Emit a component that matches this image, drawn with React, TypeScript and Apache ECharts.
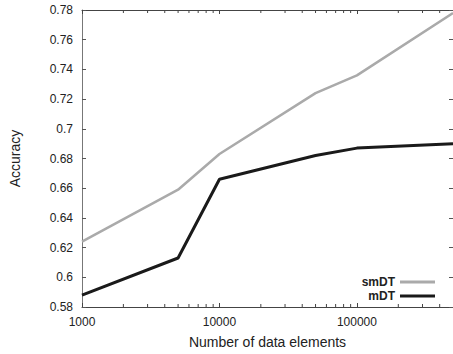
import React, { useEffect, useRef } from "react";
import * as echarts from "echarts";

const sizes = [1000, 5000, 10000, 50000, 100000, 500000];
const smDT = [0.624, 0.659, 0.683, 0.724, 0.736, 0.778];
const mDT = [0.588, 0.613, 0.666, 0.682, 0.687, 0.69];
const minorTickValues = [
  2000, 3000, 4000, 5000, 6000, 7000, 8000, 9000,
  20000, 30000, 40000, 50000, 60000, 70000, 80000, 90000,
  200000, 300000, 400000,
];
const Y_MIN = 0.58;
const Y_MAX = 0.78;
const Y_STEP = 0.02;
const X_MIN = 1000;
const X_MAX = 500000;

const FONT = "'Liberation Sans', Arial, Helvetica, sans-serif";

export default function App() {
  const ref = useRef<HTMLDivElement>(null);
  useEffect(() => {
    if (!ref.current) return;
    const chart = echarts.init(ref.current, null, { renderer: "svg" });
    const fmtY = (v: number) => String(Number(v.toFixed(2)));
    chart.setOption({
      animation: false,
      backgroundColor: "#ffffff",
      textStyle: { fontFamily: FONT },
      grid: { left: 78, top: 10, right: -1, bottom: 46.5, containLabel: false },
      legend: {
        data: ["smDT", "mDT"],
        orient: "vertical",
        right: 13,
        top: 271,
        align: "right",
        itemGap: 2,
        itemWidth: 35,
        itemHeight: 3,
        icon: "rect",
        textStyle: { fontFamily: FONT, fontSize: 12, fontWeight: "bold", color: "#222" },
      },
      xAxis: [
        {
          type: "log",
          logBase: 10,
          min: X_MIN,
          max: X_MAX,
          position: "bottom",
          name: "Number of data elements",
          nameLocation: "middle",
          nameGap: 28,
          nameTextStyle: { fontFamily: FONT, fontSize: 14, color: "#222" },
          axisLine: { show: true, lineStyle: { color: "#444", width: 1 } },
          axisTick: { show: true, inside: true, length: 4, lineStyle: { color: "#444" } },
          axisLabel: {
            fontFamily: FONT,
            fontSize: 12,
            color: "#222",
            margin: 9,
            showMaxLabel: false,
            formatter: (v: number) => String(Math.round(v)),
          },
          splitLine: { show: false },
        },
        {
          type: "log",
          logBase: 10,
          min: X_MIN,
          max: X_MAX,
          position: "top",
          axisLine: { show: true, lineStyle: { color: "#444", width: 1 } },
          axisTick: { show: true, inside: true, length: 4, lineStyle: { color: "#444" } },
          axisLabel: { show: false },
          splitLine: { show: false },
        },
      ],
      yAxis: [
        {
          type: "value",
          min: Y_MIN,
          max: Y_MAX,
          interval: Y_STEP,
          position: "left",
          name: "Accuracy",
          nameLocation: "middle",
          nameGap: 60,
          nameTextStyle: { fontFamily: FONT, fontSize: 14, color: "#222" },
          axisLine: { show: true, lineStyle: { color: "#777", width: 1 } },
          axisTick: { show: true, inside: true, length: 4, lineStyle: { color: "#555" } },
          axisLabel: { fontFamily: FONT, fontSize: 12, color: "#222", margin: 9, formatter: fmtY },
          splitLine: { show: false },
        },
        {
          type: "value",
          min: Y_MIN,
          max: Y_MAX,
          interval: Y_STEP,
          position: "right",
          axisLine: { show: true, lineStyle: { color: "#444", width: 1 } },
          axisTick: { show: true, inside: true, length: 4, lineStyle: { color: "#555" } },
          axisLabel: { show: false },
          splitLine: { show: false },
        },
      ],
      series: [
        {
          name: "smDT",
          type: "line",
          xAxisIndex: 0,
          yAxisIndex: 0,
          data: sizes.map((s, i) => [s, smDT[i]]),
          showSymbol: false,
          symbol: "none",
          color: "#aaaaaa",
          lineStyle: { color: "#aaaaaa", width: 2.5 },
          itemStyle: { color: "#aaaaaa" },
        },
        {
          name: "mDT",
          type: "line",
          xAxisIndex: 0,
          yAxisIndex: 0,
          data: sizes.map((s, i) => [s, mDT[i]]),
          showSymbol: false,
          symbol: "none",
          color: "#1a1a1a",
          lineStyle: { color: "#1a1a1a", width: 3 },
          itemStyle: { color: "#1a1a1a" },
        },
        {
          name: "minorTicks",
          type: "custom",
          xAxisIndex: 0,
          yAxisIndex: 0,
          silent: true,
          data: minorTickValues.map((v) => [v, Y_MIN]),
          renderItem: (_params: any, api: any) => {
            const x = api.value(0);
            const b = api.coord([x, Y_MIN]);
            const t = api.coord([x, Y_MAX]);
            const style = { stroke: "#444", lineWidth: 1 };
            return {
              type: "group",
              children: [
                { type: "line", shape: { x1: b[0], y1: b[1], x2: b[0], y2: b[1] - 3 }, style },
                { type: "line", shape: { x1: t[0], y1: t[1], x2: t[0], y2: t[1] + 3 }, style },
              ],
            };
          },
        },
      ],
    });
    return () => chart.dispose();
  }, []);
  return (
    <div
      ref={ref}
      style={{ position: "absolute", left: 0, top: 0, width: 453, height: 354, background: "#fff" }}
    />
  );
}
